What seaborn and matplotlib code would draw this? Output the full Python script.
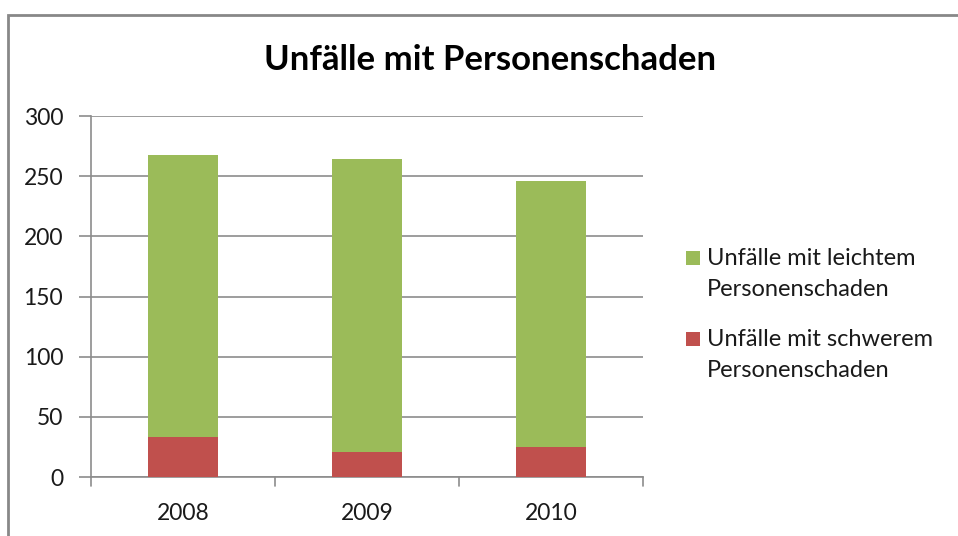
import matplotlib
matplotlib.use("Agg")
import matplotlib.pyplot as plt
import seaborn as sns
import pandas as pd
from matplotlib.patches import Rectangle

years = ["2008", "2009", "2010"]
schwer = [33, 21, 25]
leicht = [235, 243, 221]
title = "Unfälle mit Personenschaden"
labels = ["Unfälle mit leichtem\nPersonenschaden", "Unfälle mit schwerem\nPersonenschaden"]

GREEN = "#9BBB59"
RED = "#C0504D"
GRID = "#8C8C8C"
TXT = "#1a1a1a"

sns.set_theme(style="white")
plt.rcParams["font.family"] = ["Lato", "DejaVu Sans"]

df = pd.DataFrame({"year": years, "schwer": schwer, "leicht": leicht})
df["total"] = df["schwer"] + df["leicht"]

fig = plt.figure(figsize=(9.58, 5.36), dpi=100)
ax = fig.add_axes([91/958, 1-477/536, (643-91)/958, (477-116)/536])

sns.barplot(data=df, x="year", y="total", color=GREEN, saturation=1, width=0.385, ax=ax, zorder=3)
sns.barplot(data=df, x="year", y="schwer", color=RED, saturation=1, width=0.385, ax=ax, zorder=4)
for p in ax.patches:
    p.set_edgecolor("none")

ax.set_ylim(0, 300)
ax.set_xlim(-0.5, 2.5)
ax.set_yticks(range(0, 301, 50))
ax.yaxis.grid(True, color=GRID, linewidth=1.2, zorder=0)
ax.set_axisbelow(True)
ax.set_xlabel("")
ax.set_ylabel("")
for s in ["top", "right"]:
    ax.spines[s].set_visible(False)
for s in ["left", "bottom"]:
    ax.spines[s].set_color(GRID)
    ax.spines[s].set_linewidth(1.2)
ax.tick_params(axis="y", left=True, length=9, color=GRID, width=1.2, labelsize=16.5, pad=11, labelcolor=TXT)
ax.tick_params(axis="x", bottom=False, labelsize=16.5, pad=13, labelcolor=TXT)
for xb in [-0.5, 0.5, 1.5, 2.5]:
    ax.plot([xb, xb], [0, -9/1.2], color=GRID, lw=1.2, clip_on=False, zorder=5)

fig.text(490/958, 1-60/536, title, ha="center", va="center", fontsize=25, fontweight="bold", color="black")

# legend, drawn as in the reference (handle aligned with first text line)
colors = [GREEN, RED]
tops = [248, 329]
for lab, col, top in zip(labels, colors, tops):
    fig.patches.append(Rectangle((686/958, 1-(top+17)/536), 14/958, 14/536,
                                 transform=fig.transFigure, facecolor=col, edgecolor="none"))
    fig.text(707/958, 1-top/536, lab, ha="left", va="top", fontsize=17, color=TXT, linespacing=1.58)

fig.patches.append(Rectangle((8/958, -0.1), 1.2, 1.1 - 15/536, transform=fig.transFigure,
                             fill=False, edgecolor="#888888", linewidth=2, clip_on=False))

fig.savefig("out.png", dpi=100)
